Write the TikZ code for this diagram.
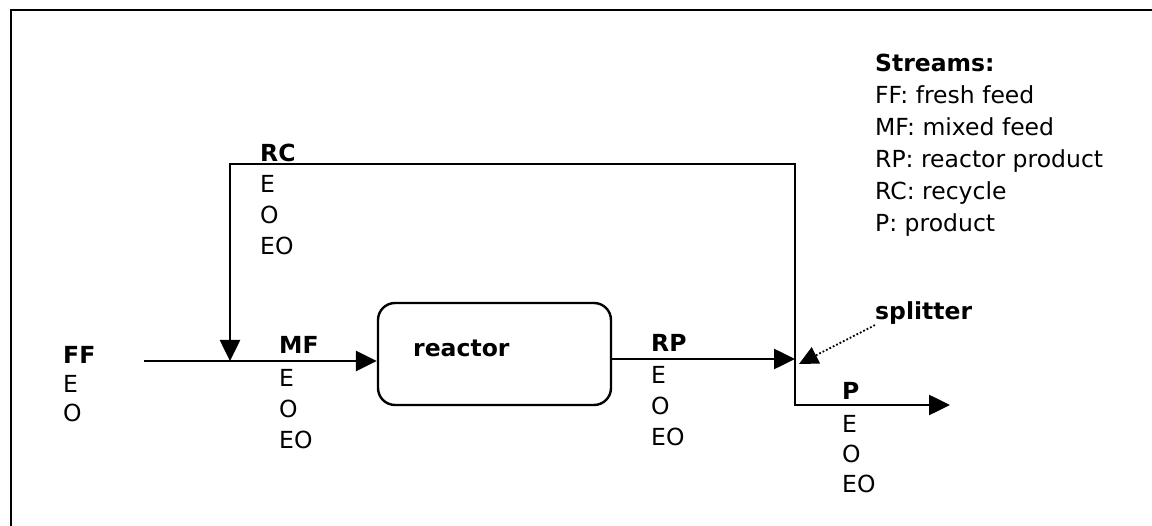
\documentclass[tikz,border=0pt]{standalone}
\usepackage{fontspec}
\setmainfont{DejaVu Sans}
\usetikzlibrary{arrows.meta}
\begin{document}
\begin{tikzpicture}[x=1pt,y=-1pt,
  lbl/.style={anchor=base west,inner sep=0pt,font=\fontsize{23.5}{28}\selectfont},
  blbl/.style={anchor=base west,inner sep=0pt,font=\fontsize{23.5}{28}\selectfont\bfseries},
  flow/.style={line width=2.6pt,line join=miter,-{Triangle[length=21pt,width=20pt]}},
  reactorbox/.style={draw,line width=2.4pt,rounded corners=17pt,minimum width=233pt,minimum height=102pt,inner sep=0pt},
  pointer/.style={dotted,line width=1.8pt,-{Triangle[length=19pt,width=18pt]}}
]
\useasboundingbox (0,0) rectangle (1152,526);
\draw[line width=2pt] (11,526) -- (11,10) -- (1152,10);

% reactor
\node[reactorbox] (reactor) at (494.5,354) {};
\node[blbl] (rtext) at (413,357) {reactor};

% junction points
\coordinate (ffstart) at (144,361);
\coordinate (mix) at (230,361);
\coordinate (split) at (795,359);
\coordinate (rctop) at (795,164);
\coordinate (rcleft) at (230,164);
\coordinate (pcorner) at (795,405);
\coordinate (pend) at (950,405);
\coordinate (splittip) at (799,364);

% streams
\draw[flow] (ffstart) -- (reactor.west |- ffstart);
\draw[flow] (reactor.east |- split) -- (split);
\draw[flow] (split) -- (rctop) -- (rcleft) -- (mix);
\draw[flow] (split) -- (pcorner) -- (pend);

% splitter
\node[blbl] (splitter) at (875,320) {splitter};
\draw[pointer] (splitter.south west) -- (splittip);

% RC labels
\node[blbl] (rc) at (260,162) {RC};
\node[lbl] (rce) at (260,193) {E};
\node[lbl] (rco) at (260,224) {O};
\node[lbl] (rceo) at (260,255) {EO};

% FF labels
\node[blbl] (ff) at (63,364) {FF};
\node[lbl] (ffe) at (63,393) {E};
\node[lbl] (ffo) at (63,422) {O};

% MF labels
\node[blbl] (mf) at (279,354) {MF};
\node[lbl] (mfe) at (279,387) {E};
\node[lbl] (mfo) at (279,418) {O};
\node[lbl] (mfeo) at (279,449) {EO};

% RP labels
\node[blbl] (rp) at (651,352) {RP};
\node[lbl] (rpe) at (651,384) {E};
\node[lbl] (rpo) at (651,415) {O};
\node[lbl] (rpeo) at (651,446) {EO};

% P labels
\node[blbl] (p) at (842,400) {P};
\node[lbl] (pe) at (842,433) {E};
\node[lbl] (po) at (842,463) {O};
\node[lbl] (peo) at (842,493) {EO};

% legend
\node[blbl] (lh) at (875,72) {Streams:};
\node[lbl] (l1) at (875,104) {FF: fresh feed};
\node[lbl] (l2) at (875,136) {MF: mixed feed};
\node[lbl] (l3) at (875,168) {RP: reactor product};
\node[lbl] (l4) at (875,200) {RC: recycle};
\node[lbl] (l5) at (875,232) {P: product};
\end{tikzpicture}
\end{document}
